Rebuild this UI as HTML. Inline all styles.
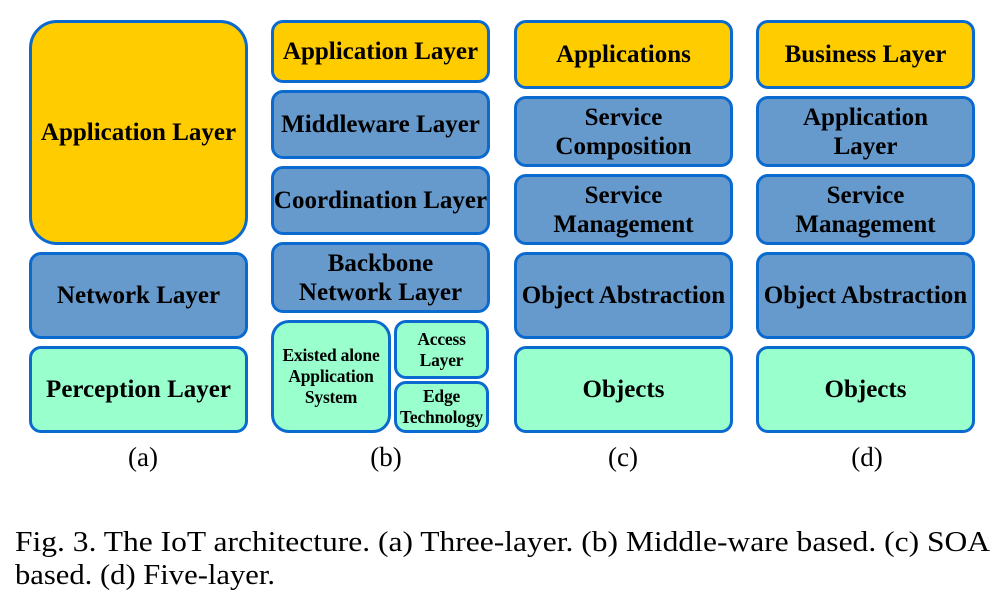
<!DOCTYPE html>
<html><head><style>
body{margin:0;width:999px;height:601px;background:#fff;position:relative;overflow:hidden;font-family:"Liberation Serif",serif}
.b{position:absolute;box-sizing:border-box;border:3px solid #0a6ad0;border-radius:12px;display:flex;align-items:center;justify-content:center;text-align:center;font-weight:bold;font-size:25px;line-height:29px;color:#000;white-space:nowrap}
.y{background:#ffcc00}.u{background:#6699cc}.g{background:#99ffcc}
.s{font-size:17.5px;line-height:21px;letter-spacing:-0.2px}
.l{position:absolute;font-size:27px;top:442px;width:60px;text-align:center}
</style></head><body>
<div class="b y" style="left:29px;top:20px;width:219px;height:225px;border-radius:28px">Application Layer</div>
<div class="b u" style="left:29px;top:252px;width:219px;height:87px">Network Layer</div>
<div class="b g" style="left:29px;top:346px;width:219px;height:87px">Perception Layer</div>

<div class="b y" style="left:271px;top:20px;width:219px;height:63px">Application Layer</div>
<div class="b u" style="left:271px;top:90px;width:219px;height:69px">Middleware Layer</div>
<div class="b u" style="left:271px;top:166px;width:219px;height:69px">Coordination Layer</div>
<div class="b u" style="left:271px;top:242px;width:219px;height:71px">Backbone<br>Network Layer</div>
<div class="b g s" style="left:271px;top:320px;width:120px;height:113px;border-radius:18px">Existed alone<br>Application<br>System</div>
<div class="b g s" style="left:394px;top:320px;width:95px;height:59px">Access<br>Layer</div>
<div class="b g s" style="left:394px;top:381px;width:95px;height:52px">Edge<br>Technology</div>

<div class="b y" style="left:514px;top:20px;width:219px;height:69px">Applications</div>
<div class="b u" style="left:514px;top:96px;width:219px;height:71px">Service<br>Composition</div>
<div class="b u" style="left:514px;top:174px;width:219px;height:71px">Service<br>Management</div>
<div class="b u" style="left:514px;top:252px;width:219px;height:87px">Object Abstraction</div>
<div class="b g" style="left:514px;top:346px;width:219px;height:87px">Objects</div>

<div class="b y" style="left:756px;top:20px;width:219px;height:69px">Business Layer</div>
<div class="b u" style="left:756px;top:96px;width:219px;height:71px">Application<br>Layer</div>
<div class="b u" style="left:756px;top:174px;width:219px;height:71px">Service<br>Management</div>
<div class="b u" style="left:756px;top:252px;width:219px;height:87px">Object Abstraction</div>
<div class="b g" style="left:756px;top:346px;width:219px;height:87px">Objects</div>

<div class="l" style="left:113px">(a)</div>
<div class="l" style="left:356px">(b)</div>
<div class="l" style="left:593px">(c)</div>
<div class="l" style="left:837px">(d)</div>

<svg style="position:absolute;left:0;top:0" width="999" height="601">
<text x="15" y="551" font-family="Liberation Serif, serif" font-size="29" textLength="975" lengthAdjust="spacingAndGlyphs">Fig.  3.  The IoT architecture. (a) Three-layer. (b) Middle-ware based. (c) SOA</text>
<text x="15" y="584" font-family="Liberation Serif, serif" font-size="29" textLength="260" lengthAdjust="spacingAndGlyphs">based. (d) Five-layer.</text>
</svg>
</body></html>
